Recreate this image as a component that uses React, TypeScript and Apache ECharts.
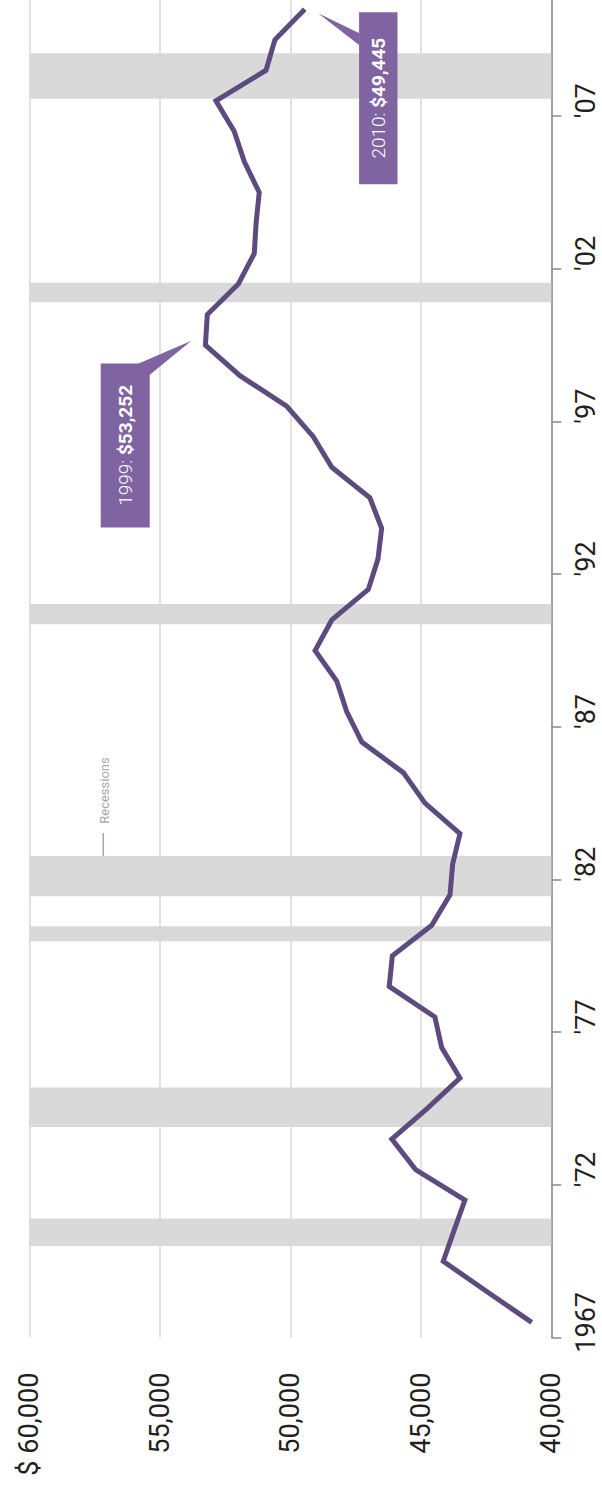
import React, { useEffect, useRef } from "react";
import * as echarts from "echarts";

// ---- data ----
const years: string[] = [
  "1967", "1968", "1969", "1970", "1971", "1972", "1973", "1974", "1975", "1976",
  "1977", "1978", "1979", "1980", "1981", "1982", "1983", "1984", "1985", "1986",
  "1987", "1988", "1989", "1990", "1991", "1992", "1993", "1994", "1995", "1996",
  "1997", "1998", "1999", "2000", "2001", "2002", "2003", "2004", "2005", "2006",
  "2007", "2008", "2009", "2010",
];

const medianIncome: number[] = [
  40750, 42460, 44140, 43730, 43310, 45200, 46110, 44760, 43500, 44200,
  44460, 46210, 46090, 44580, 43880, 43780, 43500, 44840, 45670, 47260,
  47840, 48220, 49050, 48410, 47010, 46640, 46500, 46950, 48410, 49120,
  50140, 51930, 53252, 53180, 51990, 51380, 51310, 51190, 51760, 52150,
  52850, 50930, 50590, 49445,
];

// recession shading, in fractional years on the chart's year scale
const recessions: [number, number][] = [
  [1969.5, 1970.4],
  [1973.4, 1974.69],
  [1979.48, 1979.97],
  [1980.95, 1982.27],
  [1989.86, 1990.52],
  [2000.4, 2001.04],
  [2007.07, 2008.56],
];

const valueTicks = { min: 40000, max: 60000, step: 5000 };

const callouts = [
  { year: 1999, value: 53252, label: "1999: ", amount: "$53,252" },
  { year: 2010, value: 49445, label: "2010: ", amount: "$49,445" },
];

const FONT = "Roboto, 'Liberation Sans', sans-serif";
const PURPLE_BOX = "#8064a2";
const LINE_COLOR = "#5d4a7e";
const BAND = "#d9d9d9";

function fmt(v: number): string {
  const s = String(Math.round(v));
  const t = s.replace(/\B(?=(\d{3})+(?!\d))/g, ",");
  return v === valueTicks.max ? "$ " + t : t;
}

export default function App() {
  const ref = useRef<HTMLDivElement>(null);

  useEffect(() => {
    document.body.style.margin = "0";
    if (!ref.current) return;
    const chart = echarts.init(ref.current, undefined, { renderer: "svg" });

    const option: any = {
      animation: false,
      backgroundColor: "#ffffff",
      grid: {
        left: 29.3,
        right: 50.7,
        top: -6.1,
        bottom: 151.4,
        containLabel: false,
        outerBoundsMode: "none",
      },
      xAxis: [
        {
          type: "value",
          min: valueTicks.min,
          max: valueTicks.max,
          interval: valueTicks.step,
          inverse: true,
          position: "bottom",
          axisLine: { show: false },
          axisTick: { show: false },
          splitLine: { show: true, lineStyle: { color: "#d9d9d9", width: 1.5 } },
          axisLabel: {
            rotate: 90,
            margin: 35,
            fontSize: 27,
            fontFamily: FONT,
            fontWeight: 400,
            color: "#231f20",
            formatter: (v: number) => fmt(v),
            showMinLabel: true,
            showMaxLabel: true,
            hideOverlap: false,
          },
        },
      ],
      yAxis: [
        {
          type: "category",
          data: years,
          position: "right",
          boundaryGap: true,
          axisLine: { show: true, lineStyle: { color: "#8a8a8a", width: 1.5 } },
          axisTick: { show: true, interval: 4, length: 10, lineStyle: { color: "#8a8a8a", width: 1.5 } },
          splitLine: { show: false },
          axisLabel: {
            interval: 4,
            rotate: 90,
            margin: 21,
            fontSize: 27,
            fontFamily: FONT,
            fontWeight: 400,
            color: "#231f20",
            formatter: (v: string) => (v === years[0] ? v : "'" + v.slice(2)),
          },
        },
        {
          type: "value",
          min: Number(years[0]) - 0.5,
          max: Number(years[years.length - 1]) + 0.5,
          show: false,
          position: "right",
        },
      ],
      series: [
        {
          name: "Recessions",
          type: "line",
          xAxisIndex: 0,
          yAxisIndex: 1,
          data: [],
          silent: true,
          z: 1,
          markArea: {
            silent: true,
            itemStyle: { color: BAND },
            data: recessions.map(([s, e]) => [{ yAxis: s }, { yAxis: e }]),
          },
        },
        {
          name: "Median household income",
          type: "line",
          xAxisIndex: 0,
          yAxisIndex: 0,
          data: medianIncome.map((v, i) => [v, years[i]]),
          symbol: "none",
          lineStyle: { color: LINE_COLOR, width: 5, join: "miter" },
          z: 3,
        },
      ],
    };
    chart.setOption(option);

    // callouts positioned relative to their data points
    const graphics: any[] = [];
    callouts.forEach((c, idx) => {
      const p = chart.convertToPixel({ xAxisIndex: 0, yAxisIndex: 1 }, [c.value, c.year]) as number[];
      if (!p) return;
      const [px, py] = p;
      let box: { l: number; r: number; t: number; b: number };
      let tri: number[][];
      if (idx === 0) {
        box = { l: -104.7, r: -55.7, t: 18.3, b: 182.3 };
        tri = [[-14, -4.3], [-67.4, 18.6], [-55.9, 30]];
      } else {
        box = { l: 54.3, r: 92.7, t: 3, b: 175 };
        tri = [[13.3, 4], [54.6, 24], [54.6, 36]];
      }
      graphics.push({
        type: "polygon",
        shape: { points: tri.map(([dx, dy]) => [px + dx, py + dy]) },
        style: { fill: PURPLE_BOX },
        z: 10,
      });
      graphics.push({
        type: "rect",
        shape: { x: px + box.l, y: py + box.t, width: box.r - box.l, height: box.b - box.t },
        style: { fill: PURPLE_BOX },
        z: 10,
      });
      graphics.push({
        type: "text",
        x: px + (box.l + box.r) / 2,
        y: py + (box.t + box.b) / 2,
        rotation: Math.PI / 2,
        z: 11,
        style: {
          text: "{a|" + c.label + "}{b|" + c.amount + "}",
          align: "center",
          verticalAlign: "middle",
          rich: {
            a: { fontSize: 19, fontFamily: FONT, fontWeight: 300, color: "#ffffff", fill: "#ffffff" },
            b: { fontSize: 19, fontFamily: FONT, fontWeight: "bold", color: "#ffffff", fill: "#ffffff" },
          },
        },
      });
    });

    // legend for recession shading
    graphics.push({
      type: "text",
      x: 104,
      y: 790.5,
      rotation: Math.PI / 2,
      style: {
        text: "Recessions",
        fontSize: 13,
        fontFamily: FONT,
        fill: "#a6a6a6",
        align: "center",
        verticalAlign: "middle",
      },
    });
    graphics.push({
      type: "line",
      shape: { x1: 103.3, y1: 833, x2: 103.3, y2: 856 },
      style: { stroke: "#a6a6a6", lineWidth: 1.5 },
    });

    chart.setOption({ graphic: graphics });

    return () => {
      chart.dispose();
    };
  }, []);

  return <div ref={ref} style={{ width: 602, height: 1489 }} />;
}
